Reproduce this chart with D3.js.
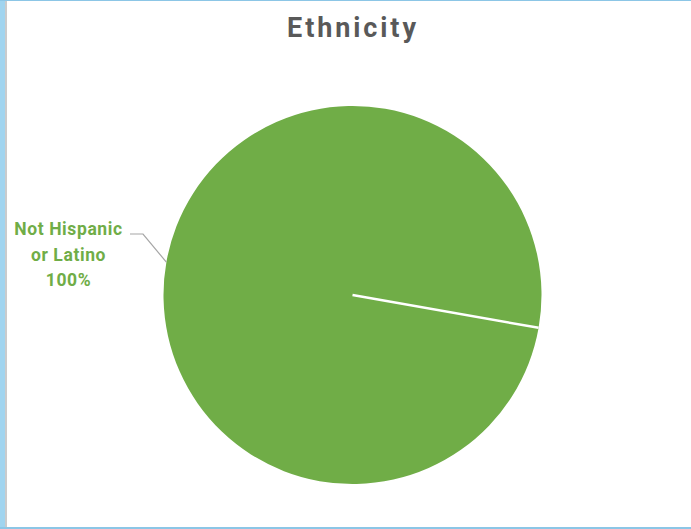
<!DOCTYPE html>
<html>
<head>
<meta charset="utf-8">
<script src="https://cdn.jsdelivr.net/npm/d3@7"></script>
<style>
  html, body { margin: 0; padding: 0; background: #fff; }
  svg { display: block; }
</style>
</head>
<body>
<script>
const title = "Ethnicity";
const categories = ["Not Hispanic or Latino", "Hispanic or Latino"];
const values = [100, 0];
const labelLines = ["Not Hispanic", "or Latino", "100%"];

const W = 691, H = 529;
const svg = d3.select("body").append("svg").attr("width", W).attr("height", H);

svg.append("rect").attr("width", W).attr("height", H).attr("fill", "#fff");
// window frame
svg.append("rect").attr("x", 0).attr("y", 0).attr("width", 5).attr("height", H).attr("fill", "#A0D4EF");
svg.append("rect").attr("x", 5).attr("y", 0).attr("width", 2).attr("height", H).attr("fill", "#C9CBCC");
svg.append("rect").attr("x", 0).attr("y", 0).attr("width", W).attr("height", 1).attr("fill", "#8CC6E6");
svg.append("rect").attr("x", 0).attr("y", 527).attr("width", W).attr("height", 2).attr("fill", "#8CC6E6");

svg.append("text")
  .attr("x", 353).attr("y", 37)
  .attr("text-anchor", "middle")
  .attr("font-family", "Roboto, 'Open Sans', sans-serif")
  .attr("font-weight", "bold")
  .attr("font-size", 27)
  .attr("letter-spacing", 2.9)
  .attr("fill", "#595959")
  .text(title);

const cx = 352.5, cy = 295, r = 189;
const color = d3.scaleOrdinal().domain(categories).range(["#70AD47", "#4472C4"]);
const pie = d3.pie().sort(null).value(d => d.v)
  .startAngle(100 * Math.PI / 180).endAngle(100 * Math.PI / 180 + 2 * Math.PI);
const arcs = pie(categories.map((c, i) => ({ c, v: values[i] })));
const arc = d3.arc().innerRadius(0).outerRadius(r);

const g = svg.append("g").attr("transform", `translate(${cx},${cy})`);
g.selectAll("path").data(arcs.filter(a => a.endAngle > a.startAngle)).join("path")
  .attr("d", arc)
  .attr("fill", d => color(d.data.c));

// slice border at the boundary between slices
arcs.filter(a => a.endAngle - a.startAngle < 2 * Math.PI - 1e-6).forEach(a => {
  const p = d3.pointRadial(a.startAngle, r);
  g.append("line").attr("x1", 0).attr("y1", 0).attr("x2", p[0]).attr("y2", p[1])
    .attr("stroke", "#fff").attr("stroke-width", 2.5);
});

// data label
const lbl = svg.append("text")
  .attr("text-anchor", "middle")
  .attr("font-family", "Roboto, 'Open Sans', sans-serif")
  .attr("font-weight", "bold")
  .attr("font-size", 17.5)
  .attr("letter-spacing", 0.6)
  .attr("fill", "#70AD47");
labelLines.forEach((t, i) => {
  lbl.append("tspan").attr("x", 68.5).attr("y", 235 + i * 25.5).text(t);
});

// leader line to the slice's mid-angle on the rim
const mid = (arcs[0].startAngle + arcs[0].endAngle) / 2;
const edge = d3.pointRadial(mid, r);
svg.append("polyline")
  .attr("points", `130,234 143,234 ${cx + edge[0]},${cy + edge[1]}`)
  .attr("fill", "none").attr("stroke", "#A6A6A6").attr("stroke-width", 1.2);
</script>
</body>
</html>
